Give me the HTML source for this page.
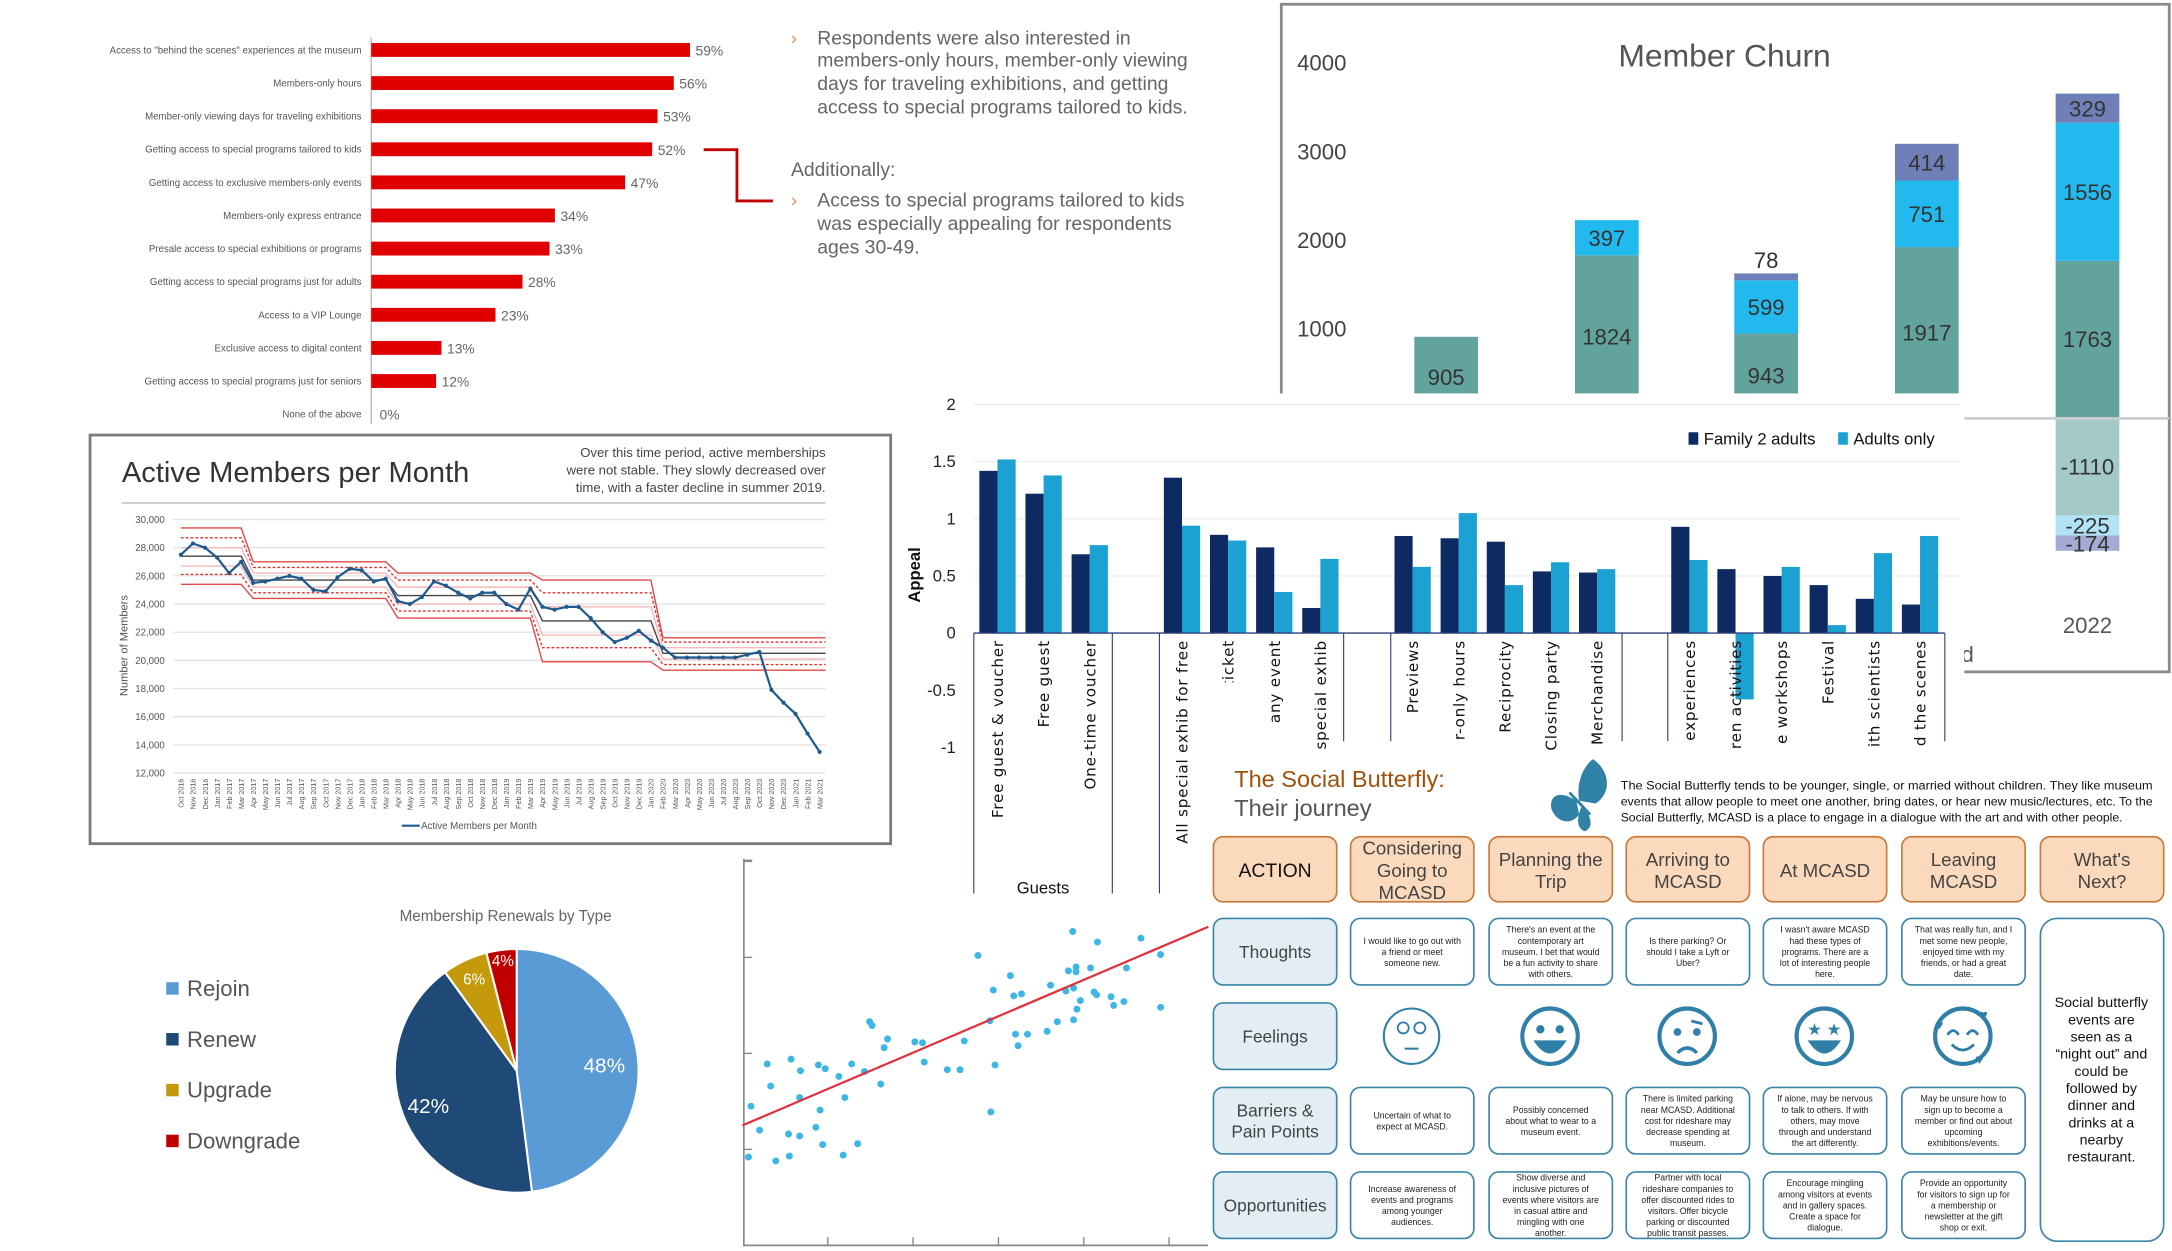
<!DOCTYPE html>
<html><head><meta charset="utf-8"><title>Membership dashboard collage</title>
<style>
html,body{margin:0;padding:0;background:#fff;}
svg{display:block;font-family:"Liberation Sans",Arial,sans-serif;}
</style></head>
<body>
<svg id="root" xmlns="http://www.w3.org/2000/svg" width="2172" height="1251" viewBox="0 0 1568 903">
<rect x="0" y="0" width="1568" height="903" fill="#fff"/>

<g id="callout" font-size="14" fill="#666">
  <text x="571" y="32" fill="#f08c4a" font-size="13">›</text>
  <text x="590" y="32">Respondents were also interested in</text>
  <text x="590" y="48">members-only hours, member-only viewing</text>
  <text x="590" y="65">days for traveling exhibitions, and getting</text>
  <text x="590" y="82">access to special programs tailored to kids.</text>
  <text x="571" y="127">Additionally:</text>
  <text x="571" y="149" fill="#f08c4a" font-size="13">›</text>
  <text x="590" y="149">Access to special programs tailored to kids</text>
  <text x="590" y="166">was especially appealing for respondents</text>
  <text x="590" y="183">ages 30-49.</text>
  <polyline points="508,108 532,108 532,145 558,145" fill="none" stroke="#c00000" stroke-width="2"/>
</g>

<g id="hbar"></g>
<g id="churn"></g>
<g id="grouped"></g>
<g id="active"></g>
<g id="pie"></g>
<g id="scatter"></g>
<g id="journey"></g>
</svg>

<script>
const hbarLabels = ['Access to "behind the scenes" experiences at the museum','Members-only hours','Member-only viewing days for traveling exhibitions','Getting access to special programs tailored to kids','Getting access to exclusive members-only events','Members-only express entrance','Presale access to special exhibitions or programs','Getting access to special programs just for adults','Access to a VIP Lounge','Exclusive access to digital content','Getting access to special programs just for seniors','None of the above'];
const hbarValues = [59,56,53,52,47,34,33,28,23,13,12,0];

const churnTicks = [1000,2000,3000,4000];
const churnBase = [905,1824,943,1917,1763];
const churnMid = [0,397,599,751,1556];
const churnTop = [0,0,78,414,329];
const churnNeg = [-1110,-225,-174];

const appealCats = ['Free guest & voucher','Free guest','One-time voucher','All special exhib for free','l exhib ticket','to any event','special exhib','Previews','r-only hours','Reciprocity','Closing party','Merchandise','experiences','ren activities','e workshops','Festival','ith scientists','d the scenes'];
const appealGroup = [0,0,0,1,1,1,1,2,2,2,2,2,3,3,3,3,3,3];
const appealFamily = [1.42,1.22,0.69,1.36,0.86,0.75,0.22,0.85,0.83,0.80,0.54,0.53,0.93,0.56,0.50,0.42,0.30,0.25];
const appealAdults = [1.52,1.38,0.77,0.94,0.81,0.36,0.65,0.58,1.05,0.42,0.62,0.56,0.64,-0.58,0.58,0.07,0.70,0.85];
const appealTicks = [2,1.5,1,0.5,0,-0.5,-1];

const activeMembers = [27500,28300,28000,27300,26200,27000,25500,25600,25800,26000,25800,25000,24900,25900,26500,26400,25600,25800,24200,24000,24500,25600,25300,24800,24400,24800,24800,24000,23600,25100,23800,23600,23800,23800,23000,22000,21300,21600,22100,21400,20900,20200,20200,20200,20200,20200,20200,20400,20600,17900,17000,16200,14800,13500];
const activeTicks = [30000,28000,26000,24000,22000,20000,18000,16000,14000,12000];
const segStart = [0,6,18,30,40];
const segEnd = [5,17,29,39,53];
const segMean = [27400,25700,24600,22800,20500];
const segUcl = [29400,27000,26200,25700,21600];
const segLcl = [25400,24400,23000,19900,19300];
const segU1 = [28700,26600,25700,24800,21300];
const segL1 = [26100,24800,23500,20900,19700];
const segU2 = [28000,26200,25200,23800,20900];
const segL2 = [26700,25200,24000,21800,20100];

const pieLabels = ['Rejoin','Renew','Upgrade','Downgrade'];
const pieValues = [48,42,6,4];

const scatterX = [0.07,0.10,0.20,0.29,0.33,0.39,0.54,0.55,0.57,0.67,0.67,0.68,0.86,0.89,0.91,0.94,0.97,1.13,1.18,1.20,1.28,1.35,1.43,1.49,1.52,1.62,1.66,1.70,2.02,2.11,2.13,2.40,2.55,2.60,2.76,2.90,2.91,2.94,2.96,3.14,3.18,3.20,3.23,3.27,3.34,3.57,3.61,3.69,3.79,3.82,3.87,3.88,3.88,3.91,3.91,3.92,3.96,4.08,4.12,4.15,4.16,4.32,4.35,4.47,4.50,4.67,4.90,4.90];
const scatterY = [0.92,1.45,1.20,1.89,1.66,0.88,1.16,0.93,1.94,1.14,1.54,1.82,1.23,1.88,1.41,1.05,1.84,1.76,0.94,1.54,1.89,1.06,1.81,2.33,2.29,1.68,2.06,2.15,2.12,2.11,1.91,1.83,1.83,2.13,3.02,2.34,1.39,2.66,1.88,2.81,2.60,2.20,2.08,2.62,2.20,2.23,2.71,2.33,2.65,2.86,3.27,2.68,2.35,2.90,2.85,2.46,2.55,2.89,2.64,2.61,3.16,2.59,2.50,2.54,2.89,3.20,3.03,2.48];
const trendCoef = [1.25,0.379];

const NS='http://www.w3.org/2000/svg';
function mk(tag,parent){const e=document.createElementNS(NS,tag);parent.appendChild(e);return e;}
function at(e,o){for(const k in o)e.setAttribute(k,o[k]);return e;}
function txt(parent,s,o){const e=mk('text',parent);at(e,o);e.textContent=s;return e;}

(function(){
  const g=document.getElementById('hbar');
  const xs=v=>268+v*3.9, ys=i=>36+i*23.9;
  let ax=mk('line',g);at(ax,{x1:268,y1:27,x2:268,y2:306,stroke:'#bbb','stroke-width':1});
  
  
  hbarValues.forEach((v,i)=>{
    let lb=txt(g,hbarLabels[i],{x:261,y:ys(i)+2.5,'text-anchor':'end','font-size':7,fill:'#555'});
    
    
    let r=mk('rect',g);at(r,{x:268,y:ys(i)-5,width:Math.max(xs(v)-268,0.01),height:10,fill:'#e00000'});
    
    
    let vt=txt(g,v+'%',{x:xs(v)+4+(v===0?2:0),y:ys(i)+4,'font-size':10,fill:'#666'});
    
    
  });
})();

(function(){
  const g=document.getElementById('churn');
  const ys=v=>301-v*0.064, bx=[1044,1160,1275,1391,1507], bw=46;
  let fr=mk('polyline',g);at(fr,{points:'925,290 925,3 1566,3 1566,485 1418,485',fill:'none',stroke:'#8a8a8a','stroke-width':2});
  
  
  let t=txt(g,'Member Churn',{x:1245,y:48,'text-anchor':'middle','font-size':23,fill:'#555'});
  
  
  churnTicks.forEach(v=>{
    let l=txt(g,String(v),{x:972,y:ys(v)+6,'text-anchor':'end','font-size':16,fill:'#444'});
    
    
  });
  const cols=['#62a39e','#22b9ef','#6f7fb8'];
  const series=[churnBase,churnMid,churnTop];
  bx.forEach((cx,i)=>{
    let acc=0;
    series.forEach((s,k)=>{
      const v=s[i]; if(!v) return;
      let r=mk('rect',g);at(r,{x:cx-bw/2,y:ys(acc+v),width:bw,height:v*0.064,fill:cols[k]});
      
      
      const small=v*0.064<20;
      let l=txt(g,String(v),{x:cx,y:small?ys(acc+v)-4:ys(acc+v/2)+6,'text-anchor':'middle','font-size':16,fill:'#333'});
      
      
      acc+=v;
    });
  });
  const ncol=['#a3cac6','#b0e3f6','#a4acd6'];
  let acc=0;const cx=bx[4];
  churnNeg.forEach((v,k)=>{
    let r=mk('rect',g);at(r,{x:cx-bw/2,y:ys(acc),width:bw,height:-v*0.064,fill:ncol[k]});
    
    
    let l=txt(g,String(v),{x:cx,y:ys(acc+v/2)+6,'text-anchor':'middle','font-size':16,fill:'#333'});
    
    
    acc+=v;
  });
  let zl=mk('line',g);at(zl,{x1:1418,y1:302,x2:1566,y2:302,stroke:'#ccc','stroke-width':2});
  
  
  let yr=txt(g,'2022',{x:cx,y:457,'text-anchor':'middle','font-size':16,fill:'#555'});
  
  
  let d=txt(g,'d',{x:1416,y:478,'font-size':16,fill:'#555'});
  
  
})();

(function(){
  const g=document.getElementById('grouped');
  let bg=mk('rect',g);at(bg,{x:646,y:284,width:772,height:366,fill:'#fff'});
  
  
  const ys=v=>457-v*82.5, bw=13.1;
  const slot=i=>i+appealGroup[i];
  const xs=i=>707+slot(i)*33.3;
  appealTicks.forEach(v=>{
    if(v>0){let gl=mk('line',g);at(gl,{x1:703,y1:ys(v),x2:1415,y2:ys(v),stroke:'#eee','stroke-width':1});
      
      }
    let l=txt(g,String(v),{x:690,y:ys(v)+4,'text-anchor':'end','font-size':12,fill:'#222'});
    
    
  });
  let yt=txt(g,'Appeal',{x:0,y:0,transform:'translate(664,415) rotate(-90)','text-anchor':'middle','font-size':12,'font-weight':'bold',fill:'#111'});
  
  
  const defs=mk('defs',g);const cp=mk('clipPath',defs);cp.setAttribute('id','lblclip');
  at(mk('rect',cp),{x:860,y:440,width:560,height:97});
  appealCats.forEach((c,i)=>{
    const x=xs(i);
    let r1=mk('rect',g);at(r1,{x:x,y:Math.min(ys(appealFamily[i]),457),width:bw,height:Math.abs(appealFamily[i])*82.5,fill:'#0d2a63'});
    
    
    let r2=mk('rect',g);at(r2,{x:x+bw,y:Math.min(ys(appealAdults[i]),457),width:bw,height:Math.abs(appealAdults[i])*82.5,fill:'#1ba1d2'});
    
    
    const cx=x+bw+4;
    const o={x:cx,y:462,'text-anchor':'end','font-size':11,'letter-spacing':0.55,fill:'#111',transform:`rotate(-90 ${cx} 462)`,'font-family':'"DejaVu Sans",sans-serif'};
    if(x>850&&i!==3) o['clip-path']='url(#lblclip)';
    let l=txt(g,c,o);
    
    
  });
  let zl=mk('line',g);at(zl,{x1:703,y1:457,x2:1404,y2:457,stroke:'#2f3e7a','stroke-width':1});
  
  
  const sepX=[703,803,837,970,1004,1171,1204,1404];
  const sepBottom=[645,645,645,535,535,535,535,535];
  sepX.forEach((sx,k)=>{
    let s=mk('line',g);at(s,{x1:sx,y1:457,x2:sx,y2:sepBottom[k],stroke:'#2f3e7a','stroke-width':0.8});
    
    
  });
  let gu=txt(g,'Guests',{x:753,y:645,'text-anchor':'middle','font-size':12,fill:'#111'});
  
  
  let lr1=mk('rect',g);at(lr1,{x:1219,y:312,width:7,height:9,fill:'#0d2a63'});
  
  
  let lt1=txt(g,'Family 2 adults',{x:1230,y:321,'font-size':12,fill:'#111'});
  
  
  let lr2=mk('rect',g);at(lr2,{x:1327,y:312,width:7,height:9,fill:'#1ba1d2'});
  
  
  let lt2=txt(g,'Adults only',{x:1338,y:321,'font-size':12,fill:'#111'});
  
  
})();

(function(){
  const g=document.getElementById('active');
  let fr=mk('rect',g);at(fr,{x:65,y:314,width:578,height:295,fill:'#fff',stroke:'#7a7a7a','stroke-width':2});
  
  
  let t=txt(g,'Active Members per Month',{x:88,y:348,'font-size':21,fill:'#333'});
  
  
  ['Over this time period, active memberships','were not stable. They slowly decreased over','time, with a faster decline in summer 2019.'].forEach((s,k)=>{
    let n=txt(g,s,{x:596,y:330+k*12.5,'text-anchor':'end','font-size':9.5,fill:'#444'});
    
    
  });
  let sp=mk('line',g);at(sp,{x1:88,y1:363,x2:596,y2:363,stroke:'#bbb'});
  
  
  const ys=v=>375+(30000-v)/18000*183, xs=i=>130.6+i*8.7;
  activeTicks.forEach(v=>{
    let gl=mk('line',g);at(gl,{x1:125,y1:ys(v),x2:596,y2:ys(v),stroke:'#e4e4e4'});
    
    
    let l=txt(g,v.toLocaleString('en-US'),{x:119,y:ys(v)+2.5,'text-anchor':'end','font-size':7,fill:'#555'});
    
    
  });
  let yt=txt(g,'Number of Members',{x:0,y:0,transform:'translate(92,466) rotate(-90)','text-anchor':'middle','font-size':8,fill:'#555'});
  
  
  function limitLine(arr,stroke,dash,w,name){
    const pts=[];
    segStart.forEach((s,k)=>{pts.push(xs(s)+' '+ys(arr[k]));pts.push(xs(segEnd[k])+' '+ys(arr[k]));});
    pts.push('596 '+ys(arr[arr.length-1]));
    let p=mk('polyline',g);at(p,{points:pts.join(','),fill:'none',stroke:stroke,'stroke-width':w});
    if(dash) p.setAttribute('stroke-dasharray',dash);
    
    
  }
  limitLine(segU2,'#f4b8b8',null,1,'sigma2-upper-line');
  limitLine(segL2,'#f4b8b8',null,1,'sigma2-lower-line');
  limitLine(segU1,'#e03030','2,1.5',1,'sigma1-upper-line');
  limitLine(segL1,'#e03030','2,1.5',1,'sigma1-lower-line');
  limitLine(segUcl,'#e04848',null,1,'upper-control-limit');
  limitLine(segLcl,'#e04848',null,1,'lower-control-limit');
  limitLine(segMean,'#444',null,1,'mean-line');
  const months=['Jan','Feb','Mar','Apr','May','Jun','Jul','Aug','Sep','Oct','Nov','Dec'];
  activeMembers.forEach((v,i)=>{
    const m=(9+i)%12, y=2016+Math.floor((9+i)/12);
    const cx=xs(i);
    let l=txt(g,months[m]+' '+y,{x:cx+2,y:562,'text-anchor':'end','font-size':5.2,fill:'#555',transform:`rotate(-90 ${cx+2} 562)`});
    
    
  });
  let ln=mk('polyline',g);at(ln,{points:activeMembers.map((v,i)=>xs(i)+','+ys(v)).join(' '),fill:'none',stroke:'#1f5a8e','stroke-width':1.6});
  
  
  activeMembers.forEach((v,i)=>{
    let c=mk('circle',g);at(c,{cx:xs(i),cy:ys(v),r:1.5,fill:'#1f5a8e'});
    
    
  });
  let lg=mk('line',g);at(lg,{x1:290,y1:596,x2:303,y2:596,stroke:'#1f5a8e','stroke-width':1.5});
  
  
  let lgt=txt(g,'Active Members per Month',{x:304,y:598.5,'font-size':7,fill:'#555'});
  
  
})();

(function(){
  const g=document.getElementById('pie');
  let t=txt(g,'Membership Renewals by Type',{x:365,y:665,'text-anchor':'middle','font-size':11,fill:'#666'});
  
  
  const cols=['#5b9bd5','#1f4a78','#c49a0c','#c00000'];
  const cx=373,cy=773,r=88;
  const total=pieValues.reduce((a,b)=>a+b,0);
  let a0=-Math.PI/2;
  const lblR=[0.72,0.78,0.82,0.9];
  pieValues.forEach((v,k)=>{
    const a1=a0+v/total*2*Math.PI;
    const large=(a1-a0)>Math.PI?1:0;
    const d=`M${cx},${cy} L${cx+r*Math.cos(a0)},${cy+r*Math.sin(a0)} A${r},${r} 0 ${large} 1 ${cx+r*Math.cos(a1)},${cy+r*Math.sin(a1)} Z`;
    let p=mk('path',g);at(p,{d:d,fill:cols[k],stroke:'#fff','stroke-width':1.5});
    
    
    const am=(a0+a1)/2;
    let l=txt(g,v+'%',{x:cx+r*lblR[k]*Math.cos(am),y:cy+r*lblR[k]*Math.sin(am)+(k>1?3:5),'text-anchor':'middle','font-size':k>1?11:15,fill:'#fff'});
    
    
    a0=a1;
  });
  pieLabels.forEach((s,k)=>{
    let sw=mk('rect',g);at(sw,{x:120,y:709+k*36.7,width:9,height:9,fill:cols[k]});
    
    
    let l=txt(g,s,{x:135,y:719+k*36.7,'font-size':16,fill:'#555'});
    
    
  });
})();

(function(){
  const g=document.getElementById('scatter');
  const xs=u=>536+u*61.6, ys=v=>899-v*69.3;
  let bg=mk('rect',g);at(bg,{x:537,y:650,width:336,height:253,fill:'#fff'});
  
  
  let ax=mk('polyline',g);at(ax,{points:'537,620 537,899 872,899',fill:'none',stroke:'#888','stroke-width':1.2});
  
  
  [1,2,3,4].forEach(v=>{
    let tk=mk('line',g);at(tk,{x1:537,y1:ys(v),x2:543,y2:ys(v),stroke:'#888'});
    
    
  });
  at(mk('line',g),{x1:537,y1:621,x2:543,y2:621,stroke:'#888'});
  [1,2,3,4,5].forEach(u=>{
    let tk=mk('line',g);at(tk,{x1:xs(u),y1:893,x2:xs(u),y2:899,stroke:'#888'});
    
    
  });
  scatterX.forEach((u,i)=>{
    let c=mk('circle',g);at(c,{cx:xs(u),cy:ys(scatterY[i]),r:2.5,fill:'#3bb6e6'});
    
    
  });
  const u1=5.46;
  let tl=mk('line',g);at(tl,{x1:xs(0),y1:ys(trendCoef[0]),x2:xs(u1),y2:ys(trendCoef[0]+trendCoef[1]*u1),stroke:'#e0303c','stroke-width':1.6});
  
  
})();

(function(){
  const g=document.getElementById('journey');
  let bg=mk('rect',g);at(bg,{x:875,y:545,width:693,height:358,fill:'#fff'});
  
  
  let t1=txt(g,'The Social Butterfly:',{x:891,y:568,'font-size':17,fill:'#a0500a'});
  
  
  let t2=txt(g,'Their journey',{x:891,y:589,'font-size':17,fill:'#555'});
  
  
  let bf=mk('g',g);
  
  
  at(mk('path',bf),{d:'M1150,548 C1162,556 1164,572 1152,580 L1140,578 C1138,566 1142,554 1150,548 Z',fill:'#2f82a6'});
  at(mk('path',bf),{d:'M1138,578 C1126,570 1118,574 1120,584 C1124,594 1134,596 1140,588 Z',fill:'#2f82a6'});
  at(mk('path',bf),{d:'M1142,582 C1150,590 1150,598 1144,600 C1138,598 1138,590 1142,582 Z',fill:'#2f82a6'});
  at(mk('line',bf),{x1:1133,y1:572,x2:1148,y2:588,stroke:'#2f82a6','stroke-width':2});
  const desc=['The Social Butterfly tends to be younger, single, or married without children. They like museum','events that allow people to meet one another, bring dates, or hear new music/lectures, etc. To the','Social Butterfly, MCASD is a place to engage in a dialogue with the art and with other people.'];
  desc.forEach((s,k)=>{
    const o={x:1170,y:570+k*11.5,'font-size':8.8,fill:'#111'};
    if(k<2){o.textLength=384;o.lengthAdjust='spacingAndGlyphs';}
    let d=txt(g,s,o);
    
    
  });
  const colX=[876,975,1075,1174,1273,1373,1473], colW=89;
  const headers=[['ACTION'],['Considering','Going to','MCASD'],['Planning the','Trip'],['Arriving to','MCASD'],['At MCASD'],['Leaving','MCASD'],["What's",'Next?']];
  headers.forEach((h,k)=>{
    let r=mk('rect',g);at(r,{x:colX[k],y:604,width:colW,height:47,rx:7,fill:'#fbd9bd',stroke:'#c97a3a','stroke-width':1.2});
    
    
    const lh=16, y0=628-(h.length-1)*lh/2+5;
    h.forEach((s,j)=>{
      let l=txt(g,s,{x:colX[k]+colW/2,y:y0+j*lh,'text-anchor':'middle','font-size':k===0?14:13.5,fill:k===0?'#111':'#444'});
      
      
    });
  });
  const rowY=[663,724,785,846], rowH=48;
  const rowLabels=[['Thoughts'],['Feelings'],['Barriers &','Pain Points'],['Opportunities']];
  rowLabels.forEach((h,k)=>{
    let r=mk('rect',g);at(r,{x:876,y:rowY[k],width:colW,height:rowH,rx:7,fill:'#e2eef4',stroke:'#3a86a8','stroke-width':1.2});
    
    
    const lh=15, y0=rowY[k]+rowH/2-(h.length-1)*lh/2+4.5;
    h.forEach((s,j)=>{
      let l=txt(g,s,{x:876+colW/2,y:y0+j*lh,'text-anchor':'middle','font-size':12.5,fill:'#444'});
      
      
    });
  });
  const cells=[
    [['I would like to go out with','a friend or meet','someone new.'],["There's an event at the",'contemporary art','museum. I bet that would','be a fun activity to share','with others.'],['Is there parking? Or','should I take a Lyft or','Uber?'],["I wasn't aware MCASD",'had these types of','programs. There are a','lot of interesting people','here.'],['That was really fun, and I','met some new people,','enjoyed time with my','friends, or had a great','date.']],
    null,
    [['Uncertain of what to','expect at MCASD.'],['Possibly concerned','about what to wear to a','museum event.'],['There is limited parking','near MCASD. Additional','cost for rideshare may','decrease spending at','museum.'],['If alone, may be nervous','to talk to others. If with','others, may move','through and understand','the art differently.'],['May be unsure how to','sign up to become a','member or find out about','upcoming','exhibitions/events.']],
    [['Increase awareness of','events and programs','among younger','audiences.'],['Show diverse and','inclusive pictures of','events where visitors are','in casual attire and','mingling with one','another.'],['Partner with local','rideshare companies to','offer discounted rides to','visitors. Offer bicycle','parking or discounted','public transit passes.'],['Encourage mingling','among visitors at events','and in gallery spaces.','Create a space for','dialogue.'],['Provide an opportunity','for visitors to sign up for','a membership or','newsletter at the gift','shop or exit.']]
  ];
  cells.forEach((row,ri)=>{
    if(!row) return;
    row.forEach((lines,ci)=>{
      const x=colX[ci+1];
      let r=mk('rect',g);at(r,{x:x,y:rowY[ri],width:colW,height:rowH,rx:7,fill:'#fff',stroke:'#3a86a8','stroke-width':1.2});
      
      
      const lh=8, y0=rowY[ri]+rowH/2-(lines.length-1)*lh/2+2.3;
      lines.forEach((s,j)=>{
        let l=txt(g,s,{x:x+colW/2,y:y0+j*lh,'text-anchor':'middle','font-size':6.3,fill:'#222'});
        
        
      });
    });
  });
  let nb=mk('rect',g);at(nb,{x:1473,y:663,width:89,height:233,rx:12,fill:'#fff',stroke:'#3a86a8','stroke-width':1.2});
  
  
  ['Social butterfly','events are','seen as a','“night out” and','could be','followed by','dinner and','drinks at a','nearby','restaurant.'].forEach((s,j)=>{
    let l=txt(g,s,{x:1517,y:727+j*12.4,'text-anchor':'middle','font-size':10.3,fill:'#111'});
    
    
  });
  const fc='#2f7fa8', fy=748, fxs=[1019,1119,1218,1317,1417];
  fxs.forEach((fx,k)=>{
    let f=mk('g',g);
    
    
    at(mk('circle',f),{cx:fx,cy:fy,r:20,fill:'none',stroke:fc,'stroke-width':k===0?1.5:3});
    if(k===0){
      at(mk('circle',f),{cx:fx-6,cy:fy-6,r:4,fill:'none',stroke:fc,'stroke-width':1.3});
      at(mk('circle',f),{cx:fx+6,cy:fy-6,r:4,fill:'none',stroke:fc,'stroke-width':1.3});
      at(mk('line',f),{x1:fx-5,y1:fy+9,x2:fx+5,y2:fy+9,stroke:fc,'stroke-width':1.5});
    } else if(k===1){
      at(mk('circle',f),{cx:fx-7,cy:fy-5,r:3,fill:fc});
      at(mk('circle',f),{cx:fx+7,cy:fy-5,r:3,fill:fc});
      at(mk('path',f),{d:`M${fx-12},${fy+3} Q${fx},${fy+22} ${fx+12},${fy+3} Z`,fill:fc});
    } else if(k===2){
      at(mk('circle',f),{cx:fx-7,cy:fy-3,r:2.8,fill:fc});
      at(mk('circle',f),{cx:fx+7,cy:fy-3,r:2.8,fill:fc});
      at(mk('line',f),{x1:fx+3,y1:fy-11,x2:fx+11,y2:fy-9,stroke:fc,'stroke-width':2});
      at(mk('path',f),{d:`M${fx-7},${fy+12} Q${fx},${fy+5} ${fx+7},${fy+12}`,fill:'none',stroke:fc,'stroke-width':2.5});
    } else if(k===3){
      at(mk('text',f),{x:fx-7,y:fy-1,'text-anchor':'middle','font-size':12,fill:fc}).textContent='★';
      at(mk('text',f),{x:fx+7,y:fy-1,'text-anchor':'middle','font-size':12,fill:fc}).textContent='★';
      at(mk('path',f),{d:`M${fx-12},${fy+3} Q${fx},${fy+22} ${fx+12},${fy+3} Z`,fill:fc});
    } else {
      at(mk('path',f),{d:`M${fx-11},${fy-1} Q${fx-7},${fy-7} ${fx-3},${fy-1}`,fill:'none',stroke:fc,'stroke-width':2});
      at(mk('path',f),{d:`M${fx+3},${fy-1} Q${fx+7},${fy-7} ${fx+11},${fy-1}`,fill:'none',stroke:fc,'stroke-width':2});
      at(mk('path',f),{d:`M${fx-8},${fy+6} Q${fx},${fy+14} ${fx+8},${fy+6}`,fill:'none',stroke:fc,'stroke-width':2});
      at(mk('text',f),{x:fx-17,y:fy-5,'text-anchor':'middle','font-size':10,fill:fc}).textContent='♥';
      at(mk('text',f),{x:fx+15,y:fy-12,'text-anchor':'middle','font-size':10,fill:fc}).textContent='♥';
      at(mk('text',f),{x:fx+12,y:fy+20,'text-anchor':'middle','font-size':10,fill:fc}).textContent='♥';
    }
  });
})();
</script>
</body></html>
